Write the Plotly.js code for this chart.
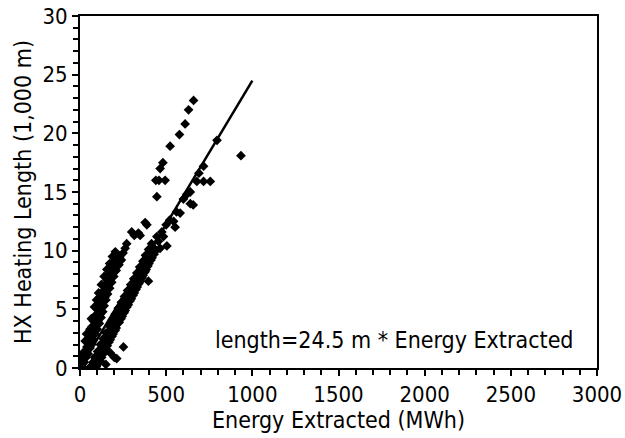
<!DOCTYPE html>
<html>
<head>
<meta charset="utf-8">
<script src="https://cdn.plot.ly/plotly-3.0.1.min.js"></script>
<style>html,body{margin:0;padding:0;background:#fff;}#chart{width:625px;height:438px;}</style>
</head>
<body>
<div id="chart"></div>
<script>
// Upper (steeper) band of measurements: energy extracted (MWh), heating length (1,000 m)
const upperX = [5,15,10,25,20,35,30,48,40,58,50,68,45,62,78,55,72,88,68,85,100,78,95,112,90,106,122,100,116,132,110,126,140,120,136,150,132,146,160,142,158,172,155,170,184,168,182,196,180,195,210,195,212,226,240,222,250];
const upperY = [0.2,0.1,0.6,0.5,1.0,0.9,1.4,1.2,1.8,1.7,2.2,2.0,2.5,2.6,2.4,3.0,3.1,2.9,3.5,3.6,3.3,4.0,4.1,3.8,4.5,4.6,4.3,5.0,5.1,4.8,5.5,5.6,5.3,6.0,6.1,5.8,6.5,6.6,6.3,7.0,7.1,6.8,7.5,7.6,7.3,8.0,8.1,7.8,8.5,8.6,8.3,9.0,9.1,8.8,9.2,9.6,9.8];
// More points at the edges of the upper band
const upperEdgeX = [18,30,38,58,82,66,104,84,118,96,130,108,144,124,160,140,176,156,192,172,206,188,230,205];
const upperEdgeY = [1.3,2.3,2.9,3.3,3.2,4.2,4.0,5.2,4.6,5.8,5.5,6.4,6.0,7.1,6.9,7.8,7.4,8.4,8.2,8.9,8.7,9.5,9.4,9.9];
// Sparse continuation of the upper band
const upperSparseX = [271,262,300,315,339,349,388,378,446,440,458,494,465,481,523,577,610,630,659];
const upperSparseY = [10.6,10.2,11.6,11.3,11.5,11.3,12.2,12.4,14.6,16.0,16.0,16.0,17.0,17.5,18.9,19.9,20.8,22.0,22.8];
// Lower band (along the fitted line)
const lowerX = [60,80,95,75,92,108,95,110,125,110,126,140,128,143,158,145,160,175,162,178,192,180,195,210,198,213,228,215,230,245,232,248,262,250,265,280,268,284,298,285,300,315,302,318,332,320,336,350,338,352,366,355,370,384,372,388,400,390,405,418,407,424,440];
const lowerY = [0.1,0.2,0.1,0.5,0.6,0.4,1.0,1.1,0.9,1.5,1.6,1.4,2.0,2.1,1.9,2.5,2.6,2.4,3.0,3.1,2.9,3.5,3.6,3.4,4.0,4.1,3.9,4.5,4.6,4.4,5.0,5.1,4.9,5.5,5.6,5.4,6.0,6.1,5.9,6.5,6.6,6.4,7.0,7.1,6.9,7.5,7.6,7.4,8.0,8.1,7.9,8.5,8.6,8.4,9.0,9.1,8.9,9.5,9.6,9.4,10.1,10.3,10.0];
// More points at the edges of the lower band
const lowerEdgeX = [70,85,118,102,135,118,150,135,168,152,186,170,204,188,220,205,238,222,256,240,272,258,290,276,308,294,325,312,342,330,360,346,378,365,394,380,412,398,430,415];
const lowerEdgeY = [0.2,0.9,0.6,1.4,1.2,2.0,1.6,2.5,2.2,3.0,2.7,3.6,3.2,4.1,3.8,4.6,4.2,5.1,4.7,5.6,5.2,6.1,5.7,6.6,6.2,7.1,6.7,7.6,7.2,8.1,7.7,8.6,8.2,9.1,8.7,9.6,9.2,10.1,9.7,10.6];
// Sparse continuation of the lower band and outliers
const lowerSparseX = [397,446,455,465,475,484,504,500,520,543,552,560,581,600,620,640,657,640,678,690,717,756,717,795,934,252,213,199,175,150];
const lowerSparseY = [7.4,11.2,10.8,10.2,11.6,11.2,10.4,12.2,12.6,12.5,12.0,13.3,13.2,14.4,14.8,14.0,13.9,15.0,15.9,16.6,15.9,15.9,17.2,19.4,18.1,1.8,0.8,0.9,1.3,0.3];
// Fitted relation: length = 24.5 m * Energy Extracted
const fitX = [0, 1000];
const fitY = [0, 24.5];

// Axis ticks: labelled ticks and minor tick steps
const xTickVals = [0,500,1000,1500,2000,2500,3000];
const yTickVals = [0,5,10,15,20,25,30];
const xMinorStep = 100;
const yMinorStep = 1;

const FONT = '"DejaVu Sans Condensed", "DejaVu Sans", sans-serif';
const mk = {symbol:'diamond', size:7.5, color:'#000', line:{width:0}};

const traces = [
  {x: upperX.concat(upperEdgeX, upperSparseX), y: upperY.concat(upperEdgeY, upperSparseY), mode:'markers', type:'scatter', marker: mk, showlegend:false, hoverinfo:'skip'},
  {x: lowerX.concat(lowerEdgeX, lowerSparseX), y: lowerY.concat(lowerEdgeY, lowerSparseY), mode:'markers', type:'scatter', marker: mk, showlegend:false, hoverinfo:'skip'},
  {x: fitX, y: fitY, mode:'lines', type:'scatter', line:{color:'#000', width:2.5}, showlegend:false, hoverinfo:'skip'}
];

function axis(tv, minorStep, titleText, standoff) {
  return {
    range:[tv[0], tv[tv.length-1]],
    tickmode:'array', tickvals:tv,
    ticks:'outside', ticklen:6, tickwidth:2, tickcolor:'#000',
    tickfont:{family:FONT, size:22, color:'#000'},
    showline:true, linecolor:'#000', linewidth:2, mirror:true,
    showgrid:false, zeroline:false,
    minor:{dtick:minorStep, ticks:'outside', ticklen:5, tickwidth:2, tickcolor:'#000', showgrid:false},
    title:{text:titleText, font:{family:FONT, size:23, color:'#000'}, standoff:standoff}
  };
}

const layout = {
  width:625, height:438,
  margin:{l:80, r:28, t:16, b:70},
  paper_bgcolor:'#fff', plot_bgcolor:'#fff',
  xaxis: axis(xTickVals, xMinorStep, 'Energy Extracted (MWh)', 2),
  yaxis: axis(yTickVals, yMinorStep, 'HX Heating Length (1,000 m)', 4),
  annotations:[{
    x:770, y:2.4, xref:'x', yref:'y', xanchor:'left', yanchor:'middle',
    text:'length=24.5 m * Energy Extracted', showarrow:false,
    font:{family:FONT, size:23, color:'#000'}
  }]
};

Plotly.newPlot('chart', traces, layout, {staticPlot:true, displayModeBar:false});
</script>
</body>
</html>
